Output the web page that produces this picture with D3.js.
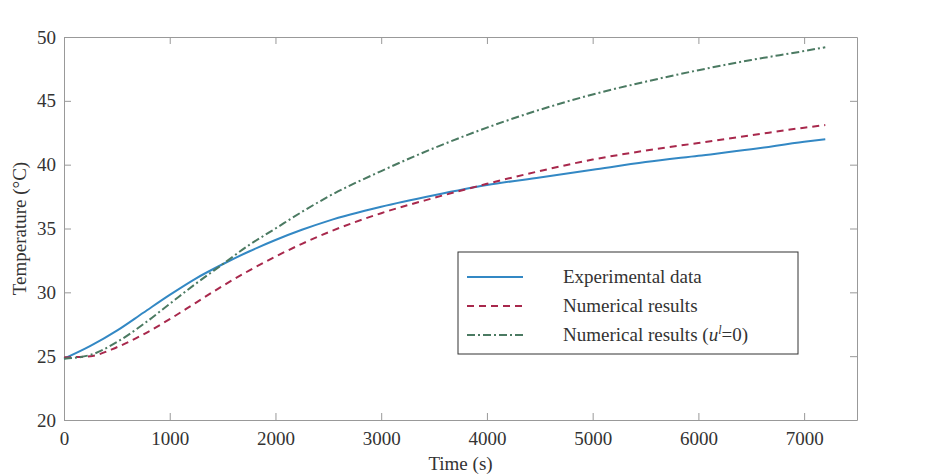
<!DOCTYPE html>
<html>
<head>
<meta charset="utf-8">
<script src="https://cdn.jsdelivr.net/npm/d3@7"></script>
<style>
  body { margin: 0; background: #fff; }
  text { font-family: "Liberation Serif", "DejaVu Serif", serif; fill: #333; }
</style>
</head>
<body>
<div id="chart"></div>
<script>
// time in seconds
const times = [0, 250, 500, 750, 1000, 1250, 1500, 1750, 2000, 2250, 2500, 3000, 3500, 4000, 4500, 5000, 5500, 6000, 6500, 7000, 7200];
const experimental = [24.8, 25.8, 27.0, 28.4, 29.8, 31.1, 32.2, 33.2, 34.1, 34.9, 35.6, 36.7, 37.6, 38.4, 39.0, 39.6, 40.2, 40.7, 41.2, 41.8, 42.0];
const numerical = [24.9, 25.0, 25.7, 26.7, 27.9, 29.2, 30.5, 31.7, 32.8, 33.8, 34.7, 36.2, 37.4, 38.5, 39.5, 40.4, 41.1, 41.7, 42.3, 42.9, 43.1];
const numericalU0 = [24.8, 25.1, 26.1, 27.5, 29.1, 30.7, 32.2, 33.7, 35.0, 36.3, 37.5, 39.5, 41.3, 42.9, 44.3, 45.5, 46.5, 47.4, 48.2, 48.9, 49.2];
const xTicks = [0, 1000, 2000, 3000, 4000, 5000, 6000, 7000];
const yTicks = [20, 25, 30, 35, 40, 45, 50];

const series = [
    { name: "Experimental data", values: experimental, color: "#3388c4", dash: null },
    { name: "Numerical results", values: numerical, color: "#a8284c", dash: "7,5" },
    { name: "Numerical results (u0)", values: numericalU0, color: "#4b7a62", dash: "8,3,2,3" }
];

const margin = { top: 37, right: 87, bottom: 55, left: 64 },
    width = 944 - margin.left - margin.right,
    height = 475 - margin.top - margin.bottom;

const svg = d3.select("#chart")
    .append("svg")
    .attr("width", 944)
    .attr("height", 475);

const g = svg.append("g")
    .attr("transform", `translate(${margin.left},${margin.top})`);

const x = d3.scaleLinear().domain([0, 7500]).range([0, width]);
const y = d3.scaleLinear().domain([20, 50]).range([height, 0]);

// axes, ticks pointing inward on all four sides
const axisColor = "#999";
function styleAxis(sel) {
    sel.select(".domain").attr("stroke", axisColor);
    sel.selectAll(".tick line").attr("stroke", axisColor);
    sel.selectAll(".tick text").style("font-size", "19px").attr("fill", "#333");
}

g.append("g")
    .attr("transform", `translate(0,${height})`)
    .call(d3.axisBottom(x).tickValues(xTicks).tickSizeInner(-7).tickSizeOuter(0).tickPadding(12).tickFormat(d3.format("d")))
    .call(styleAxis);

g.append("g")
    .call(d3.axisTop(x).tickValues(xTicks).tickSizeInner(-7).tickSizeOuter(0).tickFormat(""))
    .call(styleAxis);

g.append("g")
    .call(d3.axisLeft(y).tickValues(yTicks).tickSizeInner(-7).tickSizeOuter(0).tickPadding(8))
    .call(styleAxis);

g.append("g")
    .attr("transform", `translate(${width},0)`)
    .call(d3.axisRight(y).tickValues(yTicks).tickSizeInner(-7).tickSizeOuter(0).tickFormat(""))
    .call(styleAxis);

// lines
const line = d3.line()
    .x((d, i) => x(times[i]))
    .y(d => y(d))
    .curve(d3.curveMonotoneX);

series.forEach(s => {
    g.append("path")
        .datum(s.values)
        .attr("fill", "none")
        .attr("stroke", s.color)
        .attr("stroke-width", 2)
        .attr("stroke-dasharray", s.dash)
        .attr("d", line);
});

// axis labels
svg.append("text")
    .attr("x", margin.left + x(3750))
    .attr("y", 470)
    .attr("text-anchor", "middle")
    .style("font-size", "19px")
    .text("Time (s)");

svg.append("text")
    .attr("transform", `translate(26,${margin.top + y(35)}) rotate(-90)`)
    .attr("text-anchor", "middle")
    .style("font-size", "19px")
    .text("Temperature (°C)");

// legend
const legend = svg.append("g").attr("transform", "translate(458,252)");
legend.append("rect")
    .attr("width", 340)
    .attr("height", 102)
    .attr("fill", "#fff")
    .attr("stroke", "#333")
    .attr("stroke-width", 1);

series.forEach((s, i) => {
    const ly = 25 + i * 29;
    legend.append("line")
        .attr("x1", 9).attr("x2", 65)
        .attr("y1", ly).attr("y2", ly)
        .attr("stroke", s.color)
        .attr("stroke-width", 2)
        .attr("stroke-dasharray", s.dash);
    const t = legend.append("text")
        .attr("x", 105)
        .attr("y", ly + 6)
        .style("font-size", "19px");
    if (i === 2) {
        t.append("tspan").text("Numerical results (");
        t.append("tspan").style("font-style", "italic").text("u");
        t.append("tspan").attr("dy", -7).style("font-size", "12px").style("font-style", "italic").text("l");
        t.append("tspan").attr("dy", 7).text("=0)");
    } else {
        t.text(s.name);
    }
});
</script>
</body>
</html>
